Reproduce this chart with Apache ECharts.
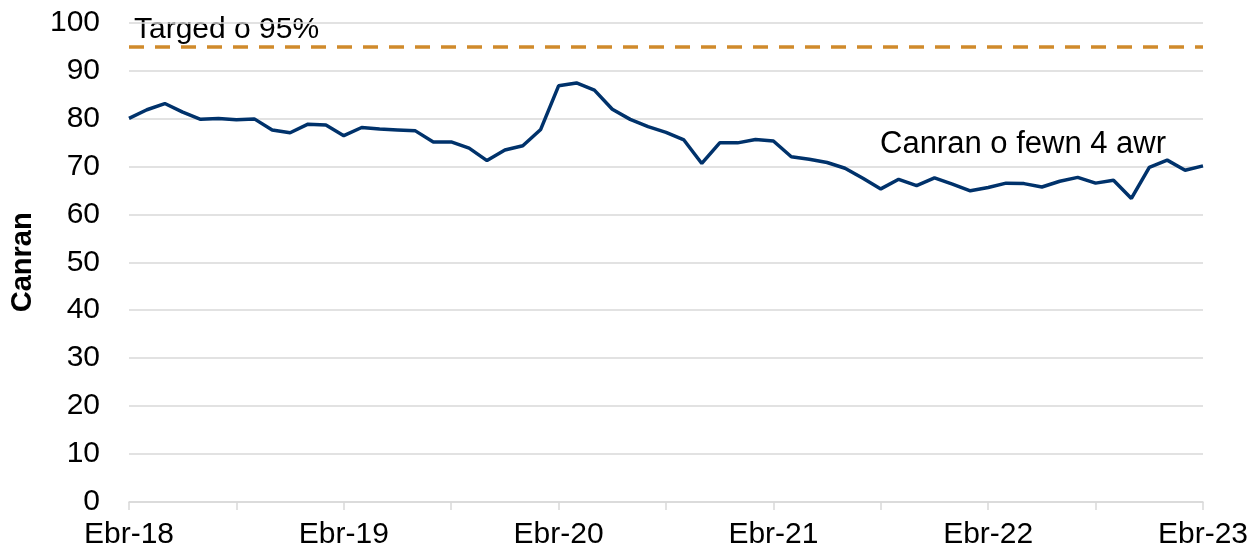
<!DOCTYPE html>
<html>
<head>
<meta charset="utf-8">
<script src="https://cdn.jsdelivr.net/npm/echarts@6/dist/echarts.min.js"></script>
<style>
  html, body { margin: 0; padding: 0; background: #fff; }
  #chart { width: 1252px; height: 551px; }
</style>
</head>
<body>
<div id="chart"></div>
<script>
// misoedd Ebr-18 .. Ebr-23
var monthNames = ["Ebr", "Mai", "Meh", "Gor", "Awst", "Medi", "Hyd", "Tach", "Rhag", "Ion", "Chwe", "Maw"];
var months = [];
for (var i = 0; i <= 60; i++) {
  var yr = 18 + Math.floor((i + 3) / 12);
  months.push(monthNames[i % 12] + "-" + yr);
}

// canran o fewn 4 awr
var within4h = [
  80.0, 81.8, 83.1, 81.3, 79.8, 80.0, 79.7, 79.9, 77.6, 77.0,
  78.8, 78.6, 76.4, 78.1, 77.8, 77.6, 77.4, 75.1, 75.1, 73.8,
  71.2, 73.4, 74.3, 77.7, 86.8, 87.4, 85.9, 81.9, 79.8, 78.3,
  77.1, 75.5, 70.6, 74.9, 74.9, 75.6, 75.3, 72.0, 71.5, 70.8,
  69.6, 67.5, 65.3, 67.3, 66.0, 67.6, 66.3, 64.9, 65.6, 66.5,
  66.4, 65.7, 66.9, 67.7, 66.5, 67.1, 63.3, 69.8, 71.3, 69.2,
  70.1
];

var target = 95;
var targetLabel = "Targed o 95%";
var seriesLabel = "Canran o fewn 4 awr";
var yTicks = [0, 10, 20, 30, 40, 50, 60, 70, 80, 90, 100];

var myChart = echarts.init(document.getElementById("chart"));
var fontFam = "'Liberation Sans', Arial, sans-serif";

var option = {
  animation: false,
  textStyle: { fontFamily: fontFam },
  grid: { left: 127, right: 49, top: 22.5, bottom: 49 },
  xAxis: {
    type: "category",
    data: months,
    boundaryGap: false,
    axisLine: { lineStyle: { color: "#d9d9d9", width: 1.5 } },
    axisTick: { interval: 5, length: 8, lineStyle: { color: "#d9d9d9", width: 1.5 } },
    axisLabel: {
      interval: 11,
      color: "#000",
      fontSize: 30,
      margin: 18,
      fontFamily: fontFam
    },
    splitLine: { show: false }
  },
  yAxis: {
    type: "value",
    min: yTicks[0],
    max: yTicks[yTicks.length - 1],
    interval: 10,
    name: "Canran",
    nameLocation: "middle",
    nameGap: 92,
    nameTextStyle: { fontSize: 29, fontWeight: "bold", color: "#000", fontFamily: fontFam },
    axisLine: { show: false },
    axisTick: { show: false },
    axisLabel: { color: "#000", fontSize: 30, margin: 29, fontFamily: fontFam },
    splitLine: { lineStyle: { color: "#d9d9d9", width: 1.5 } }
  },
  series: [
    {
      name: seriesLabel,
      type: "line",
      data: within4h,
      symbol: "none",
      lineStyle: { color: "#00326b", width: 3.5 },
      markLine: {
        silent: true,
        symbol: "none",
        label: { show: false },
        lineStyle: { color: "#d08a2b", width: 3.5, type: [15, 11] },
        data: [{ yAxis: target }]
      }
    }
  ],
  graphic: [
    {
      type: "text",
      left: 134,
      top: 15,
      style: { text: targetLabel, font: "30px " + fontFam, fill: "#000" }
    },
    {
      type: "text",
      left: 880,
      top: 129,
      style: { text: seriesLabel, font: "31px " + fontFam, fill: "#000" }
    }
  ]
};

myChart.setOption(option);
window.addEventListener("resize", function () {
  myChart.resize();
});
</script>
</body>
</html>
